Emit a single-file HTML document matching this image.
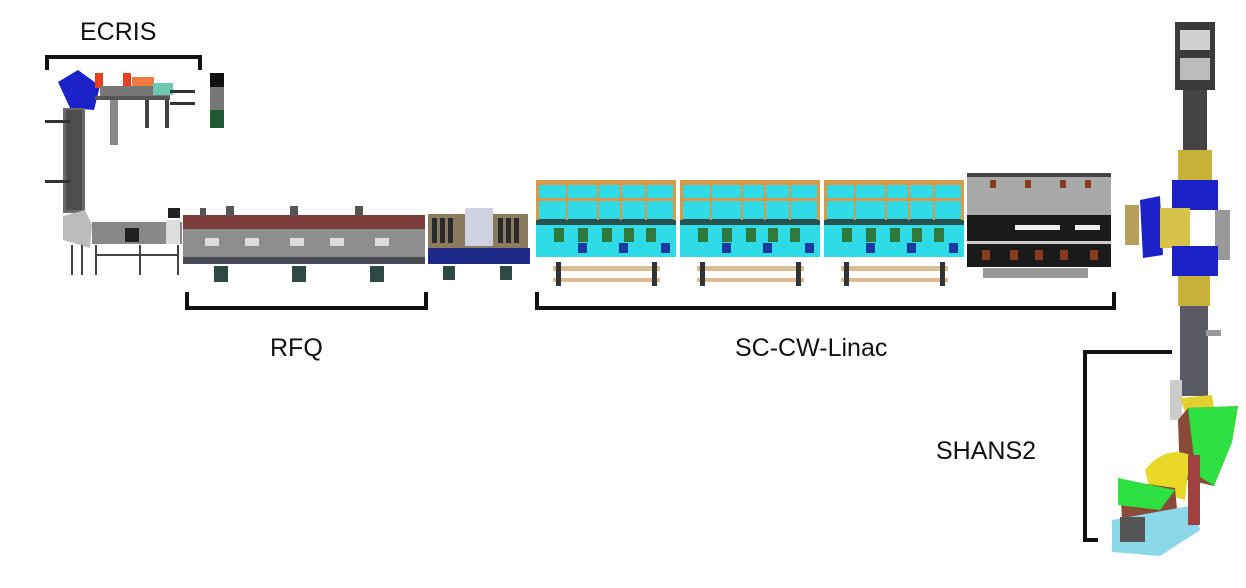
<!DOCTYPE html>
<html><head><meta charset="utf-8"><style>
html,body{margin:0;padding:0;background:#fff;}
svg{display:block;}
text{font-family:"Liberation Sans",sans-serif;fill:#111;}
</style></head><body>
<svg width="1246" height="588" viewBox="0 0 1246 588" xmlns="http://www.w3.org/2000/svg">
<rect width="1246" height="588" fill="#fff"/>
<!-- labels -->
<text x="80" y="40" font-size="25">ECRIS</text>
<text x="270" y="356" font-size="25">RFQ</text>
<text x="735" y="356" font-size="25">SC-CW-Linac</text>
<text x="936" y="459" font-size="25">SHANS2</text>
<!-- brackets -->
<g stroke="#111" stroke-width="4" fill="none">
<path d="M47,70 V57 H200 V70"/>
<path d="M187,292 V308 H426 V292"/>
<path d="M537,292 V308 H1114 V292"/>
<path d="M1172,352 H1085 V540 H1098"/>
</g>
<!-- ECRIS -->
<polygon points="58,82 78,70 100,86 94,110 70,108" fill="#1a22c8"/>
<rect x="95" y="73" width="8" height="15" fill="#e8401e"/>
<rect x="123" y="73" width="8" height="15" fill="#e8401e"/>
<rect x="132" y="77" width="22" height="16" fill="#f07a40"/>
<rect x="100" y="86" width="70" height="10" fill="#777"/>
<rect x="153" y="83" width="20" height="12" fill="#6cc8b0"/>
<rect x="170" y="90" width="25" height="3" fill="#333"/>
<rect x="170" y="102" width="25" height="3" fill="#333"/>
<rect x="95" y="96" width="75" height="4" fill="#555"/>
<rect x="110" y="100" width="8" height="45" fill="#555" opacity=".7"/>
<rect x="145" y="100" width="4" height="28" fill="#444"/>
<rect x="165" y="100" width="4" height="28" fill="#444"/>
<rect x="210" y="73" width="14" height="14" fill="#111"/>
<rect x="210" y="87" width="14" height="23" fill="#777"/>
<rect x="210" y="110" width="14" height="18" fill="#1f5a32"/>
<rect x="63" y="108" width="22" height="105" fill="#6a6a6a"/>
<rect x="66" y="110" width="16" height="100" fill="#3a3a3a" opacity=".6"/>
<rect x="45" y="120" width="25" height="3" fill="#333"/>
<rect x="45" y="180" width="25" height="3" fill="#333"/>
<!-- LEBT -->
<polygon points="63,216 85,210 92,225 90,248 63,240" fill="#bcbcbc"/>
<rect x="92" y="222" width="90" height="22" fill="#888"/>
<rect x="125" y="228" width="14" height="14" fill="#222"/>
<rect x="166" y="220" width="14" height="24" fill="#ddd"/>
<rect x="168" y="208" width="12" height="10" fill="#222"/>
<g stroke="#444" stroke-width="2"><path d="M72,245 V275 M82,245 V275 M96,245 V275 M140,245 V275 M178,245 V275 M96,255 H178"/></g>
<!-- RFQ -->
<rect x="183" y="215" width="242" height="14" fill="#7a3c38"/>
<rect x="183" y="229" width="242" height="28" fill="#8e8e8e"/>
<rect x="183" y="257" width="242" height="7" fill="#4a4a55"/>
<g fill="#555"><rect x="226" y="206" width="8" height="10"/><rect x="290" y="206" width="8" height="10"/><rect x="355" y="206" width="8" height="10"/><rect x="200" y="208" width="6" height="8"/></g>
<g fill="#ddd"><rect x="205" y="238" width="14" height="8"/><rect x="245" y="238" width="14" height="8"/><rect x="290" y="238" width="14" height="8"/><rect x="330" y="238" width="14" height="8"/><rect x="375" y="238" width="14" height="8"/></g>
<g fill="#2f4a44"><rect x="214" y="266" width="14" height="16"/><rect x="292" y="266" width="14" height="16"/><rect x="370" y="266" width="14" height="16"/></g>
<!-- MEBT -->
<rect x="428" y="214" width="100" height="40" fill="#8a7a60"/>
<rect x="428" y="248" width="102" height="16" fill="#1e2a8a"/>
<rect x="465" y="208" width="28" height="38" fill="#cfd0e0"/>
<g fill="#2a2a2a"><rect x="432" y="218" width="5" height="25"/><rect x="440" y="218" width="5" height="25"/><rect x="448" y="218" width="5" height="25"/><rect x="498" y="218" width="5" height="25"/><rect x="506" y="218" width="5" height="25"/><rect x="514" y="218" width="5" height="25"/></g>
<g fill="#2f4a44"><rect x="443" y="266" width="12" height="14"/><rect x="500" y="266" width="12" height="14"/></g>
<!-- cryomodules -->
<g id="cm">
<rect x="536" y="180" width="140" height="77" fill="#2fdbe6"/>
<rect x="536" y="180" width="140" height="5" fill="#d89a48"/>
<rect x="536" y="198" width="140" height="3" fill="#d89a48"/>
<rect x="536" y="219" width="140" height="6" fill="#2a5050"/>
<g fill="#d89a48"><rect x="536" y="180" width="3" height="40"/><rect x="566" y="180" width="2" height="40"/><rect x="597" y="180" width="2" height="40"/><rect x="620" y="180" width="2" height="40"/><rect x="645" y="180" width="2" height="40"/><rect x="673" y="180" width="3" height="40"/></g>
<g fill="#2f7a3a"><rect x="554" y="228" width="10" height="14"/><rect x="578" y="228" width="10" height="14"/><rect x="602" y="228" width="10" height="14"/><rect x="624" y="228" width="10" height="14"/><rect x="646" y="228" width="10" height="14"/></g>
<g fill="#1a3aa0"><rect x="578" y="243" width="9" height="10"/><rect x="619" y="243" width="9" height="10"/><rect x="661" y="243" width="9" height="10"/></g>
<rect x="553" y="266" width="107" height="5" fill="#d8bc94"/>
<rect x="553" y="278" width="107" height="4" fill="#d8bc94"/>
<rect x="556" y="262" width="5" height="24" fill="#333"/>
<rect x="652" y="262" width="5" height="24" fill="#333"/>
</g>
<use href="#cm" x="144"/>
<use href="#cm" x="288"/>
<!-- black module -->
<rect x="967" y="173" width="144" height="42" fill="#a9a9a9"/>
<rect x="967" y="173" width="144" height="4" fill="#444"/>
<rect x="967" y="215" width="144" height="52" fill="#1a1a1a"/>
<rect x="967" y="241" width="144" height="3" fill="#ccc"/>
<rect x="1015" y="225" width="45" height="5" fill="#eee"/>
<rect x="1075" y="225" width="25" height="5" fill="#eee"/>
<g fill="#8a3a1e"><rect x="990" y="180" width="6" height="8"/><rect x="1025" y="180" width="6" height="8"/><rect x="1060" y="180" width="6" height="8"/><rect x="1085" y="180" width="6" height="8"/>
<rect x="982" y="250" width="8" height="10"/><rect x="1010" y="250" width="8" height="10"/><rect x="1035" y="250" width="8" height="10"/><rect x="1060" y="250" width="8" height="10"/><rect x="1090" y="250" width="8" height="10"/></g>
<rect x="983" y="268" width="105" height="10" fill="#999"/>
<!-- right vertical -->
<rect x="1175" y="22" width="40" height="68" fill="#3a3a3a"/>
<rect x="1180" y="30" width="30" height="20" fill="#d0d0d0"/>
<rect x="1180" y="58" width="30" height="22" fill="#bbb"/>
<rect x="1183" y="90" width="24" height="60" fill="#444"/>
<rect x="1178" y="150" width="34" height="30" fill="#c8b23a"/>
<rect x="1172" y="180" width="46" height="30" fill="#1a22c8"/>
<polygon points="1140,200 1160,196 1163,255 1143,258" fill="#1a22c8"/>
<rect x="1160" y="208" width="30" height="40" fill="#d6c24a"/>
<rect x="1125" y="205" width="14" height="40" fill="#b8a05a"/>
<rect x="1215" y="210" width="15" height="50" fill="#999"/>
<rect x="1172" y="246" width="46" height="30" fill="#1a22c8"/>
<rect x="1178" y="276" width="32" height="30" fill="#c8b23a"/>
<rect x="1180" y="306" width="28" height="90" fill="#5a5a66"/>
<rect x="1206" y="330" width="15" height="6" fill="#999"/>
<rect x="1170" y="380" width="12" height="40" fill="#ccc"/>
<!-- SHANS2 -->
<polygon points="1180,398 1212,395 1214,408 1185,412" fill="#e0d030"/>
<polygon points="1178,420 1188,408 1238,406 1232,442 1214,486 1180,478" fill="#8a4a38"/>
<polygon points="1188,408 1238,406 1232,442 1214,486 1196,474" fill="#2ee040"/>
<path d="M1145,470 Q1165,445 1190,455 L1185,500 L1150,490 Z" fill="#e8d828"/>
<polygon points="1120,480 1175,488 1178,520 1122,520" fill="#8a4a38"/>
<polygon points="1118,478 1175,490 1160,510 1118,505" fill="#2ee040"/>
<polygon points="1112,520 1195,505 1200,530 1160,556 1112,552" fill="#8ad8e8"/>
<rect x="1120" y="517" width="25" height="25" fill="#555"/>
<rect x="1188" y="455" width="12" height="70" fill="#a04040"/>
</svg>
</body></html>
